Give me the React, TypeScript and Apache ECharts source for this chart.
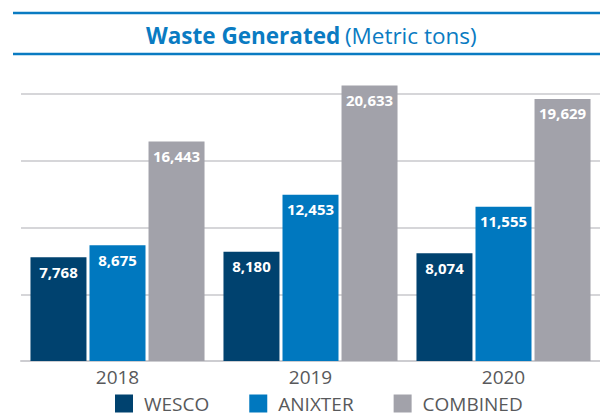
import React, { useEffect, useRef } from "react";
import * as echarts from "echarts";

const categories = ["2018", "2019", "2020"];
const seriesNames = ["WESCO", "ANIXTER", "COMBINED"];
const wescoValues = [7768, 8180, 8074];
const anixterValues = [8675, 12453, 11555];
const combinedValues = [16443, 20633, 19629];
const colors = ["#00426f", "#0078bf", "#a2a2aa"];

const FONT = "'Open Sans', 'Noto Sans', sans-serif";

export default function App() {
  const ref = useRef<HTMLDivElement>(null);
  useEffect(() => {
    if (!ref.current) return;
    const chart = echarts.init(ref.current, undefined, { renderer: "svg" });
    const values = [wescoValues, anixterValues, combinedValues];
    const fmt = (p: any) => Number(p.value).toLocaleString("en-US");
    chart.setOption({
      animation: false,
      textStyle: { fontFamily: FONT },
      title: {
        left: 146,
        top: 24,
        padding: 0,
        text: "{b|Waste Generated} {r|(Metric tons)}",
        textStyle: {
          rich: {
            b: { fontFamily: FONT, fontSize: 22.5, fontWeight: 700, color: "#0a7bc2" },
            r: { fontFamily: FONT, fontSize: 22.5, fontWeight: 400, color: "#0a7bc2" },
          },
        },
      },
      graphic: [
        { type: "line", shape: { x1: 13, y1: 13, x2: 600, y2: 13 }, style: { stroke: "#0a7bc2", lineWidth: 2.5 } },
        { type: "line", shape: { x1: 13, y1: 54, x2: 600, y2: 54 }, style: { stroke: "#0a7bc2", lineWidth: 2.5 } },
      ],
      legend: {
        left: 115,
        top: 394,
        padding: 0,
        itemWidth: 18,
        itemHeight: 18,
        itemGap: 40,
        icon: "rect",
        data: seriesNames,
        textStyle: { fontFamily: FONT, fontSize: 19, color: "#58595b", padding: [0, 0, 0, 6] },
      },
      grid: { left: 21, top: 94, width: 588, bottom: 54, containLabel: false },
      xAxis: {
        type: "category",
        data: categories,
        axisTick: { show: false },
        axisLine: { show: true, lineStyle: { color: "#cdcdd1", width: 2 } },
        axisLabel: { color: "#58595b", fontSize: 19, fontFamily: FONT, margin: 6 },
      },
      yAxis: {
        type: "value",
        min: 0,
        max: 20000,
        interval: 5000,
        axisLabel: { show: false },
        axisLine: { show: false },
        axisTick: { show: false },
        splitLine: { show: true, lineStyle: { color: "#c8c8cc", width: 1.5 } },
      },
      series: seriesNames.map((name, i) => ({
        name,
        type: "bar",
        data: values[i],
        barWidth: 56,
        barGap: "5.4%",
        clip: false,
        itemStyle: { color: colors[i] },
        label: {
          show: true,
          position: "insideTop",
          distance: 7,
          color: "#ffffff",
          fontFamily: FONT,
          fontWeight: 700,
          fontSize: 15,
          formatter: fmt,
        },
      })),
    });
    return () => chart.dispose();
  }, []);
  return (
    <div
      ref={ref}
      style={{ position: "fixed", left: 0, top: 0, width: 600, height: 415, background: "#ffffff" }}
    />
  );
}
